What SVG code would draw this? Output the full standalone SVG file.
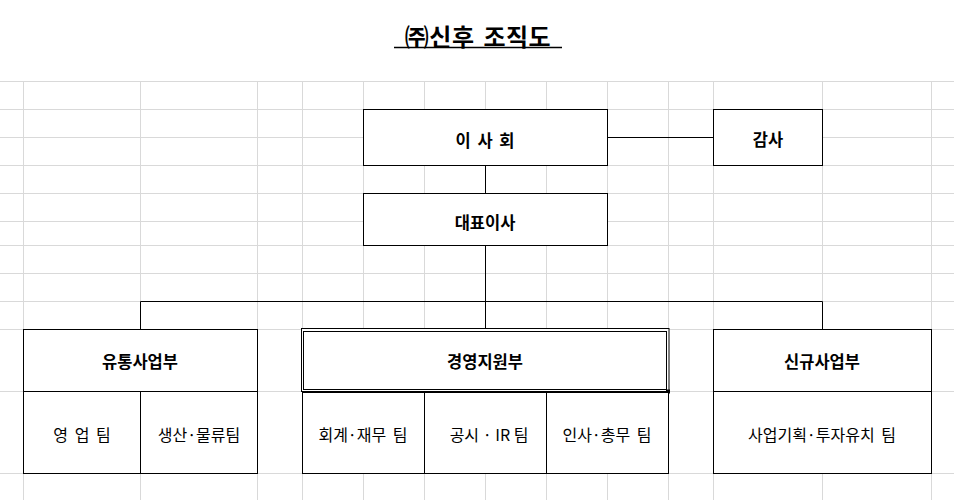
<svg xmlns="http://www.w3.org/2000/svg" width="954" height="500" viewBox="0 0 954 500">
<style>
.g{stroke:#d9d9d9;stroke-width:1;fill:none}
.b{fill:#fff;stroke:#000;stroke-width:1}
.c{stroke:#000;stroke-width:1;fill:none}
text{font-family:"Noto Sans CJK KR","Noto Sans",sans-serif;fill:#000;text-anchor:middle;dominant-baseline:central;word-spacing:3px}
.h{font-size:16.5px;font-weight:bold}
.t{font-size:16px}
.title{font-size:24px;font-weight:bold;letter-spacing:0.5px}
</style>
<rect width="954" height="500" fill="#fff"/>
<g id="grid" class="g">
<path d="M0 81.5H954M0 109.5H954M0 137.5H954M0 165.5H954M0 193.5H954M0 221.5H954M0 245.5H954M0 273.5H954M0 301.5H954M0 329.5H954M0 391.5H954M0 473.5H954"/>
<path d="M23.5 81V500M140.5 81V500M257.5 81V500M302.5 81V500M363.5 81V500M424.5 81V500M485.5 81V500M546.5 81V500M607.5 81V500M668.5 81V500M713.5 81V500M822.5 81V500M931.5 81V500"/>
</g>
<g id="title">
<text class="title" x="478" y="35.5">㈜신후 조직도</text>
<line x1="394" y1="47.5" x2="562" y2="47.5" stroke="#000" stroke-width="1.5"/>
</g>
<g id="connectors" class="c">
<path d="M607.5 137.5H713.5"/>
<path d="M485.5 165.5V193.5"/>
<path d="M485.5 245.5V329"/>
<path d="M140.5 329V301.5H822.5V329"/>
</g>
<g id="board">
<rect class="b" x="363.5" y="109.5" width="244" height="56"/>
<text class="h" x="485" y="139.5">이 사 회</text>
</g>
<g id="audit">
<rect class="b" x="713.5" y="109.5" width="109" height="56"/>
<text class="h" x="768" y="139">감사</text>
</g>
<g id="ceo">
<rect class="b" x="363.5" y="193.5" width="244" height="52"/>
<text class="h" x="485" y="221.5">대표이사</text>
</g>
<g id="dist">
<rect class="b" x="23.5" y="329.5" width="234" height="62"/>
<text class="h" x="140" y="361">유통사업부</text>
</g>
<g id="sales">
<rect class="b" x="23.5" y="391.5" width="117" height="82"/>
<text class="t" x="82" y="434">영 업 팀</text>
</g>
<g id="prod">
<rect class="b" x="140.5" y="391.5" width="117" height="82"/>
<text class="t" x="199" y="434">생산·물류팀</text>
</g>
<g id="mgmt">
<rect class="b" x="301.5" y="328.5" width="367.5" height="63"/>
<rect class="c" x="303.5" y="331.5" width="363" height="58"/>
<rect x="666" y="389.5" width="4" height="4" fill="#000"/>
<text class="h" x="485" y="361">경영지원부</text>
</g>
<g id="acct">
<rect class="b" x="302.5" y="392.5" width="122" height="81"/>
<text class="t" x="363" y="434">회계·재무 팀</text>
</g>
<g id="ir">
<rect class="b" x="424.5" y="392.5" width="122" height="81"/>
<text class="t" x="489" y="434" style="word-spacing:0">공시 · IR 팀</text>
</g>
<g id="hr">
<rect class="b" x="546.5" y="392.5" width="122" height="81"/>
<text class="t" x="607" y="434">인사·총무 팀</text>
</g>
<g id="newbiz">
<rect class="b" x="713.5" y="329.5" width="218" height="62"/>
<text class="h" x="822" y="361">신규사업부</text>
</g>
<g id="plan">
<rect class="b" x="713.5" y="391.5" width="218" height="82"/>
<text class="t" x="822" y="434">사업기획·투자유치 팀</text>
</g>
</svg>
